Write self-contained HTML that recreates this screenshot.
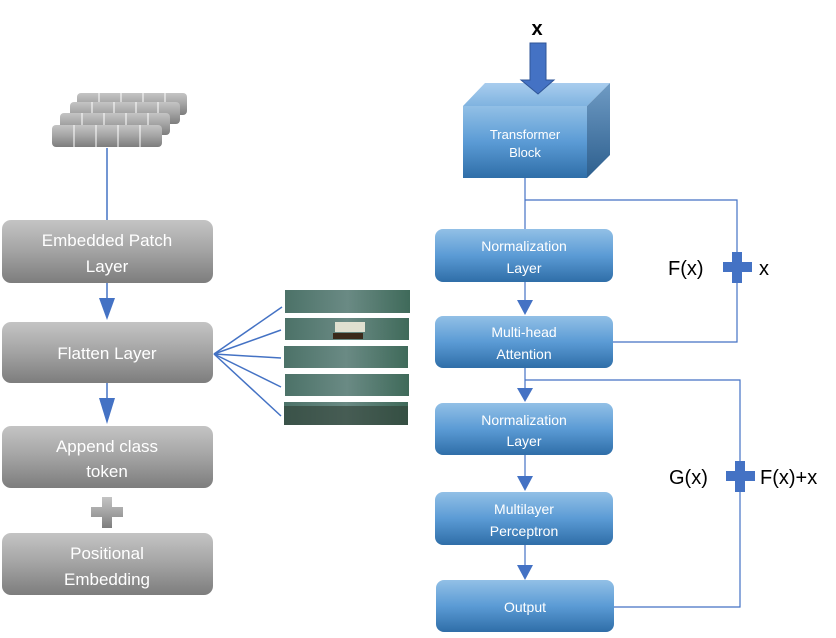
<!DOCTYPE html>
<html><head><meta charset="utf-8"><style>
html,body{margin:0;padding:0;background:#fff;}
svg text{font-family:"Liberation Sans",sans-serif;}
</style></head><body>
<svg width="836" height="633" viewBox="0 0 836 633" xmlns="http://www.w3.org/2000/svg">
<defs>
<linearGradient id="g" x1="0" y1="0" x2="0" y2="1"><stop offset="0" stop-color="#c4c4c4"/><stop offset="0.5" stop-color="#a3a3a3"/><stop offset="1" stop-color="#7d7d7d"/></linearGradient>
<linearGradient id="b" x1="0" y1="0" x2="0" y2="1"><stop offset="0" stop-color="#92c0e6"/><stop offset="0.5" stop-color="#5b9bd5"/><stop offset="1" stop-color="#2f6ea8"/></linearGradient>
<linearGradient id="bt" x1="0" y1="0" x2="0" y2="1"><stop offset="0" stop-color="#a9cdee"/><stop offset="1" stop-color="#7fb3e0"/></linearGradient>
<linearGradient id="bs" x1="0" y1="0" x2="0" y2="1"><stop offset="0" stop-color="#6f9bc4"/><stop offset="1" stop-color="#2d5f8e"/></linearGradient>
<linearGradient id="img" x1="0" y1="0" x2="1" y2="0"><stop offset="0" stop-color="#4c7268"/><stop offset="0.5" stop-color="#6a8a84"/><stop offset="1" stop-color="#3f6a5a"/></linearGradient>
<g id="row"><rect x="0" y="0" width="110" height="22" rx="4"/><g stroke="#fff" stroke-width="1"><line x1="22" y1="0" x2="22" y2="22"/><line x1="44" y1="0" x2="44" y2="22"/><line x1="66" y1="0" x2="66" y2="22"/><line x1="88" y1="0" x2="88" y2="22"/></g></g>
</defs>

<!-- stacked patches -->
<g fill="url(#g)">
<use href="#row" x="77" y="93"/>
<use href="#row" x="70" y="102"/>
<use href="#row" x="60" y="113"/>
<use href="#row" x="52" y="125"/>
</g>
<line x1="107" y1="148" x2="107" y2="220" stroke="#4472c4" stroke-width="1.5"/>

<!-- left boxes -->
<g fill="url(#g)">
<rect x="2" y="220" width="211" height="63" rx="9"/>
<rect x="2" y="322" width="211" height="61" rx="9"/>
<rect x="2" y="426" width="211" height="62" rx="9"/>
<rect x="2" y="533" width="211" height="62" rx="9"/>
</g>
<g fill="#fff" font-size="17" text-anchor="middle">
<text x="107" y="246">Embedded Patch</text><text x="107" y="272">Layer</text>
<text x="107" y="359">Flatten Layer</text>
<text x="107" y="452">Append class</text><text x="107" y="477">token</text>
<text x="107" y="559">Positional</text><text x="107" y="585">Embedding</text>
</g>
<g stroke="#4472c4" stroke-width="1.5"><line x1="107" y1="283" x2="107" y2="300"/><line x1="107" y1="383" x2="107" y2="400"/></g>
<g fill="#4472c4"><polygon points="99,298 115,298 107,320"/><polygon points="99,398 115,398 107,424"/></g>
<path d="M91,507h11v-10h10v10h11v10h-11v11h-10v-11h-11z" fill="url(#g)"/>

<!-- image strips -->
<g stroke="#4472c4" stroke-width="1.5" fill="none">
<line x1="214" y1="354" x2="282" y2="307"/><line x1="214" y1="354" x2="281" y2="330"/><line x1="214" y1="354" x2="281" y2="358"/><line x1="214" y1="354" x2="281" y2="387"/><line x1="214" y1="354" x2="281" y2="416"/>
</g>
<g fill="url(#img)">
<rect x="285" y="290" width="125" height="23"/><rect x="285" y="318" width="124" height="22"/><rect x="284" y="346" width="124" height="22"/><rect x="285" y="374" width="124" height="22"/><rect x="284" y="402" width="124" height="23"/>
</g>
<rect x="335" y="322" width="30" height="10" fill="#e0e0d0"/><rect x="333" y="333" width="30" height="6" fill="#3a2a1a"/>
<rect x="284" y="406" width="124" height="19" fill="#2e3e34" opacity="0.6"/>

<!-- right: x arrow & block -->
<text x="537" y="35" font-size="20" font-weight="bold" text-anchor="middle">x</text>
<polygon points="463,106 485,83 610,83 587,106" fill="url(#bt)"/>
<polygon points="587,106 610,83 610,155 587,178" fill="url(#bs)"/>
<rect x="463" y="106" width="124" height="72" fill="url(#b)"/>
<polygon points="530,43 546,43 546,80 554,80 538,94 521,80 530,80" fill="#4472c4" stroke="#2f5597" stroke-width="1"/>
<g fill="#fff" font-size="13" text-anchor="middle"><text x="525" y="139">Transformer</text><text x="525" y="157">Block</text></g>

<!-- lines -->
<g stroke="#4472c4" stroke-width="1.2" fill="none">
<line x1="525" y1="178" x2="525" y2="229"/>
<polyline points="525,200 737,200 737,342 613,342"/>
<line x1="525" y1="282" x2="525" y2="302"/>
<line x1="525" y1="368" x2="525" y2="390"/>
<polyline points="525,380 740,380 740,607 613,607"/>
<line x1="525" y1="455" x2="525" y2="478"/>
<line x1="525" y1="545" x2="525" y2="567"/>
</g>
<g fill="#4472c4">
<polygon points="517,300 533,300 525,315"/><polygon points="517,388 533,388 525,402"/><polygon points="517,476 533,476 525,491"/><polygon points="517,565 533,565 525,580"/>
</g>

<!-- blue boxes -->
<g fill="url(#b)">
<rect x="435" y="229" width="178" height="53" rx="8"/>
<rect x="435" y="316" width="178" height="52" rx="8"/>
<rect x="435" y="403" width="178" height="52" rx="8"/>
<rect x="435" y="492" width="178" height="53" rx="8"/>
<rect x="436" y="580" width="178" height="52" rx="8"/>
</g>
<g fill="#fff" font-size="14" text-anchor="middle">
<text x="524" y="251">Normalization</text><text x="524" y="273">Layer</text>
<text x="524" y="337">Multi-head</text><text x="524" y="359">Attention</text>
<text x="524" y="425">Normalization</text><text x="524" y="446">Layer</text>
<text x="524" y="514">Multilayer</text><text x="524" y="536">Perceptron</text>
<text x="525" y="612">Output</text>
</g>

<!-- plus signs & labels -->
<path d="M723,262h9v-10h10v10h10v10h-10v11h-10v-11h-9z" fill="#4472c4"/>
<path d="M726,471h9v-10h10v10h10v10h-10v11h-10v-11h-9z" fill="#4472c4"/>
<g font-size="20" fill="#000">
<text x="668" y="275">F(x)</text><text x="759" y="275">x</text>
<text x="669" y="484">G(x)</text><text x="760" y="484">F(x)+x</text>
</g>
</svg>
</body></html>
